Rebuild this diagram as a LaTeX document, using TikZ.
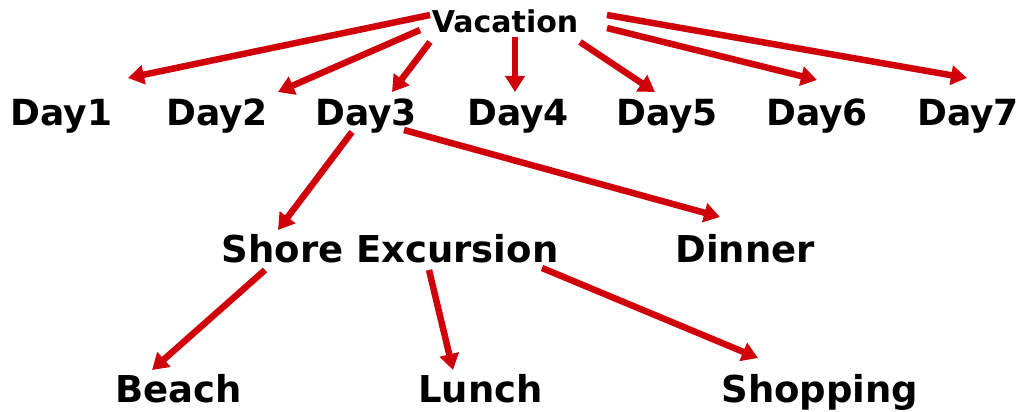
\documentclass[tikz,border=0pt]{standalone}
\usepackage{fontspec}
\setmainfont{DejaVu Sans}
\usetikzlibrary{arrows.meta,calc}
\definecolor{arrred}{RGB}{208,0,10}
\begin{document}
\begin{tikzpicture}[x=1pt,y=-1pt,
  lbl/.style={inner sep=0pt,anchor=base,font=\bfseries\fontsize{36}{40}\selectfont},
  toplbl/.style={inner sep=0pt,anchor=base,font=\bfseries\fontsize{30}{34}\selectfont},
  lowlbl/.style={inner sep=0pt,anchor=base,font=\bfseries\fontsize{37}{42}\selectfont},
  arr/.style={draw=arrred,line width=6.5pt,-{Triangle[length=16pt,width=19pt]}}]
\fill[white] (0,0) rectangle (1029,412);
\useasboundingbox (0,0) rectangle (1029,412);
\node[toplbl] (vac) at (505,33) {Vacation};
\node[lbl] (d1) at (61.5,125) {Day1};
\node[lbl] (d2) at (217,125) {Day2};
\node[lbl] (d3) at (366,125) {Day3};
\node[lbl] (d4) at (518,125) {Day4};
\node[lbl] (d5) at (667,125) {Day5};
\node[lbl] (d6) at (817,125) {Day6};
\node[lbl] (d7) at (968,125) {Day7};
\node[lowlbl] (shore) at (390,262) {Shore Excursion};
\node[lowlbl] (dinner) at (745,262) {Dinner};
\node[lowlbl] (beach) at (178.5,402) {Beach};
\node[lowlbl] (lunch) at (480.5,402) {Lunch};
\node[lowlbl] (shop) at (820,402) {Shopping};
\draw[arr] ($(vac.base)+(-75,-18)$) -- ($(d1.base)+(66.5,-47)$);
\draw[arr] ($(vac.base)+(-85,-3)$) -- ($(d2.base)+(61,-33)$);
\draw[arr] ($(vac.base)+(-75,9)$) -- ($(d3.base)+(26,-33)$);
\draw[arr] ($(vac.base)+(10,4)$) -- ($(d4.base)+(-3,-33)$);
\draw[arr] ($(vac.base)+(75,9)$) -- ($(d5.base)+(-12,-33)$);
\draw[arr] ($(vac.base)+(102,-5)$) -- ($(d6.base)+(0,-45)$);
\draw[arr] ($(vac.base)+(102,-18)$) -- ($(d7.base)+(-1,-47)$);
\draw[arr] ($(d3.base)+(-14,7)$) -- ($(shore.base)+(-112,-32)$);
\draw[arr] ($(d3.base)+(38,5)$) -- ($(dinner.base)+(-25,-45)$);
\draw[arr] ($(shore.base)+(-125,8)$) -- ($(beach.base)+(-26.5,-32)$);
\draw[arr] ($(shore.base)+(39,8)$) -- ($(lunch.base)+(-27.5,-32)$);
\draw[arr] ($(shore.base)+(152,6)$) -- ($(shop.base)+(-62,-44)$);
\end{tikzpicture}
\end{document}
